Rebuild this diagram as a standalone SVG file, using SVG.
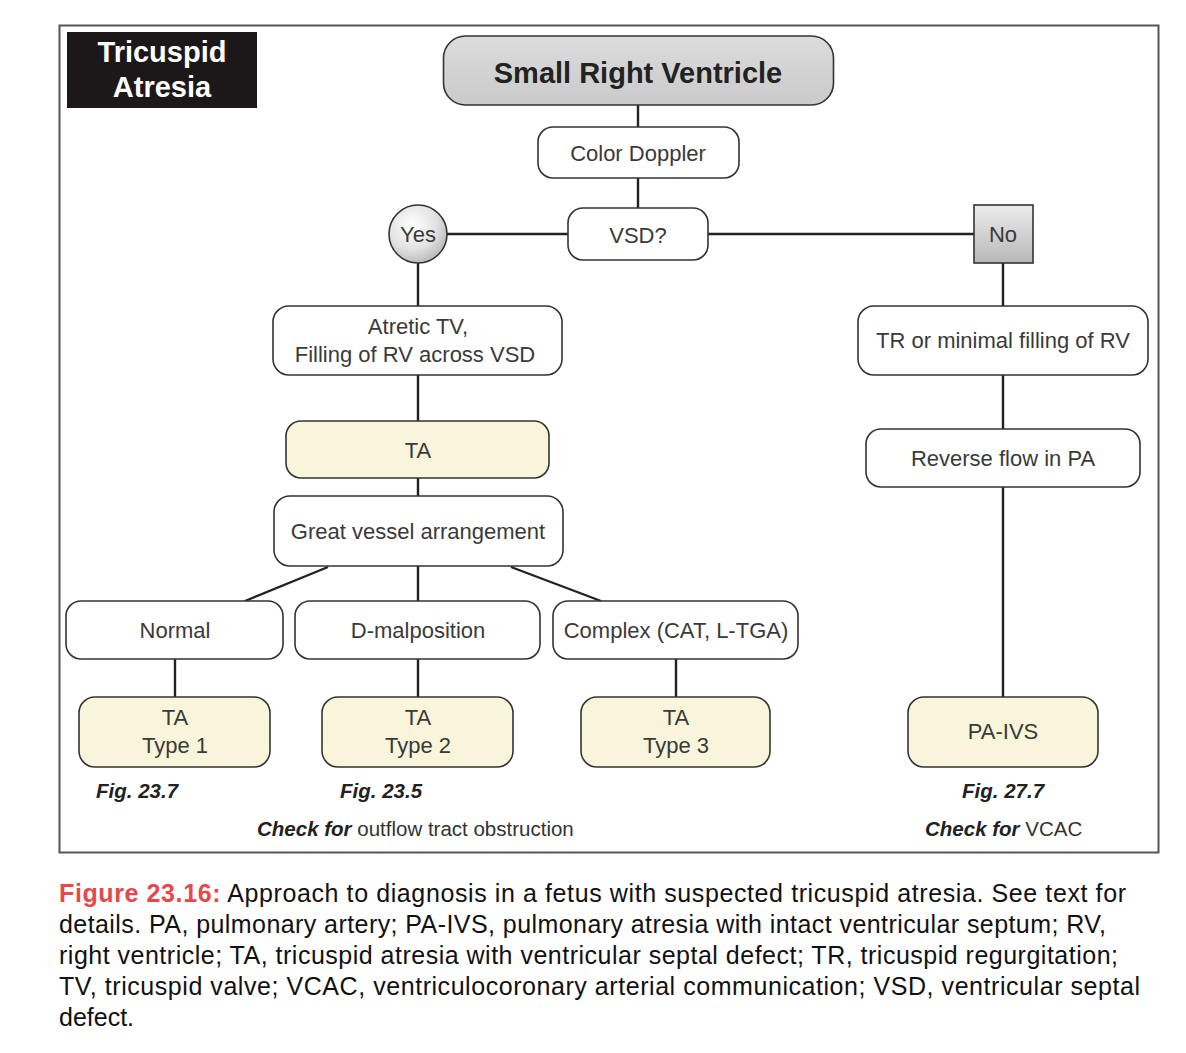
<svg xmlns="http://www.w3.org/2000/svg" width="1186" height="1053" viewBox="0 0 1186 1053">
<defs>
<linearGradient id="gHead" x1="0" y1="0" x2="0" y2="1">
<stop offset="0" stop-color="#dcdcdc"/><stop offset="1" stop-color="#cacaca"/>
</linearGradient>
<linearGradient id="gNo" x1="0" y1="0" x2="0" y2="1">
<stop offset="0" stop-color="#ececec"/><stop offset="1" stop-color="#b8b8b8"/>
</linearGradient>
<radialGradient id="gYes" cx="0.4" cy="0.35" r="0.7">
<stop offset="0" stop-color="#ffffff"/><stop offset="0.6" stop-color="#e2e2e2"/><stop offset="1" stop-color="#b5b5b5"/>
</radialGradient>
<style>
.box{fill:#fff;stroke:#333;stroke-width:1.6}
.ta{fill:#f8f5da;stroke:#333;stroke-width:1.6}
.t{font-family:"Liberation Sans",Arial,sans-serif;font-size:22px;fill:#3a3a3a;text-anchor:middle}
.fig{font-family:"Liberation Sans",Arial,sans-serif;font-size:20.5px;font-weight:bold;font-style:italic;fill:#222}
.chk{font-family:"Liberation Sans",Arial,sans-serif;font-size:20.5px;fill:#333}
.cap{font-family:"Liberation Sans",Arial,sans-serif;font-size:25px;fill:#111}
.ln{stroke:#222;stroke-width:2.4;fill:none}
</style>
</defs>
<rect width="1186" height="1053" fill="#fff"/>
<rect x="59.5" y="25.5" width="1099" height="827" fill="#fff" stroke="#555" stroke-width="2"/>

<g id="connectors">
<line class="ln" x1="638" y1="105" x2="638" y2="127"/>
<line class="ln" x1="638" y1="178" x2="638" y2="208"/>
<line class="ln" x1="447" y1="234" x2="568" y2="234"/>
<line class="ln" x1="708" y1="234" x2="974" y2="234"/>
<line class="ln" x1="418" y1="263" x2="418" y2="306"/>
<line class="ln" x1="418" y1="375" x2="418" y2="421"/>
<line class="ln" x1="418" y1="478" x2="418" y2="496"/>
<line class="ln" x1="418" y1="566" x2="418" y2="601"/>
<line class="ln" x1="328" y1="567" x2="245" y2="601"/>
<line class="ln" x1="511" y1="567" x2="601" y2="601"/>
<line class="ln" x1="175" y1="659" x2="175" y2="697"/>
<line class="ln" x1="418" y1="659" x2="418" y2="697"/>
<line class="ln" x1="676" y1="659" x2="676" y2="697"/>
<line class="ln" x1="1003" y1="263" x2="1003" y2="306"/>
<line class="ln" x1="1003" y1="375" x2="1003" y2="429"/>
<line class="ln" x1="1003" y1="487" x2="1003" y2="697"/>
</g>

<g id="title">
<rect x="67" y="32" width="190" height="76" fill="#1c1819"/>
<text x="162" y="62" font-family="Liberation Sans,Arial,sans-serif" font-size="29" font-weight="bold" fill="#fff" text-anchor="middle">Tricuspid</text>
<text x="162" y="97" font-family="Liberation Sans,Arial,sans-serif" font-size="29" font-weight="bold" fill="#fff" text-anchor="middle">Atresia</text>
</g>

<g id="n-srv">
<rect x="443.5" y="36" width="390" height="69" rx="22" fill="url(#gHead)" stroke="#333" stroke-width="1.6"/>
<text x="638" y="83" font-family="Liberation Sans,Arial,sans-serif" font-size="29" font-weight="bold" fill="#222" text-anchor="middle">Small Right Ventricle</text>
</g>

<g id="n-doppler">
<rect class="box" x="538" y="127" width="201" height="51" rx="15"/>
<text class="t" x="638" y="161">Color Doppler</text>
</g>

<g id="n-vsd">
<rect class="box" x="568" y="208" width="140" height="52" rx="15"/>
<text class="t" x="638" y="243">VSD?</text>
</g>

<g id="n-yes">
<circle cx="418" cy="234" r="29" fill="url(#gYes)" stroke="#333" stroke-width="1.6"/>
<text class="t" x="418" y="242">Yes</text>
</g>

<g id="n-no">
<rect x="974" y="205" width="59" height="58" fill="url(#gNo)" stroke="#333" stroke-width="1.6"/>
<text class="t" x="1003" y="242">No</text>
</g>

<g id="n-atretic">
<rect class="box" x="273" y="306" width="289" height="69" rx="16"/>
<text class="t" x="418" y="334">Atretic TV,</text>
<text class="t" x="415" y="362">Filling of RV across VSD</text>
</g>

<g id="n-ta">
<rect class="ta" x="286" y="421" width="263" height="57" rx="15"/>
<text class="t" x="418" y="458">TA</text>
</g>

<g id="n-great">
<rect class="box" x="274" y="496" width="289" height="70" rx="16"/>
<text class="t" x="418" y="539">Great vessel arrangement</text>
</g>

<g id="n-normal">
<rect class="box" x="66" y="601" width="217" height="58" rx="15"/>
<text class="t" x="175" y="638">Normal</text>
</g>

<g id="n-dmal">
<rect class="box" x="295" y="601" width="245" height="58" rx="15"/>
<text class="t" x="418" y="638">D-malposition</text>
</g>

<g id="n-complex">
<rect class="box" x="553" y="601" width="245" height="58" rx="15"/>
<text class="t" x="676" y="638">Complex (CAT, L-TGA)</text>
</g>

<g id="n-type1">
<rect class="ta" x="79" y="697" width="191" height="70" rx="16"/>
<text class="t" x="175" y="725">TA</text>
<text class="t" x="175" y="753">Type 1</text>
</g>

<g id="n-type2">
<rect class="ta" x="322" y="697" width="191" height="70" rx="16"/>
<text class="t" x="418" y="725">TA</text>
<text class="t" x="418" y="753">Type 2</text>
</g>

<g id="n-type3">
<rect class="ta" x="581" y="697" width="189" height="70" rx="16"/>
<text class="t" x="676" y="725">TA</text>
<text class="t" x="676" y="753">Type 3</text>
</g>

<g id="n-tr">
<rect class="box" x="858" y="306" width="290" height="69" rx="16"/>
<text class="t" x="1003" y="348">TR or minimal filling of RV</text>
</g>

<g id="n-reverse">
<rect class="box" x="866" y="429" width="274" height="58" rx="15"/>
<text class="t" x="1003" y="466">Reverse flow in PA</text>
</g>

<g id="n-paivs">
<rect class="ta" x="908" y="697" width="190" height="70" rx="16"/>
<text class="t" x="1003" y="739">PA-IVS</text>
</g>

<g id="labels">
<text class="fig" x="96" y="798">Fig. 23.7</text>
<text class="fig" x="340" y="798">Fig. 23.5</text>
<text class="fig" x="962" y="798">Fig. 27.7</text>
<text class="chk" x="257" y="836"><tspan font-weight="bold" font-style="italic" fill="#222">Check for</tspan> outflow tract obstruction</text>
<text class="chk" x="925" y="836"><tspan font-weight="bold" font-style="italic" fill="#222">Check for</tspan>  VCAC</text>
</g>

<g id="caption">
<text class="cap" x="59" y="902" textLength="1067" lengthAdjust="spacing"><tspan fill="#e8474c" font-weight="bold">Figure 23.16:</tspan> Approach to diagnosis in a fetus with suspected tricuspid atresia. See text for</text>
<text class="cap" x="59" y="933" textLength="1047" lengthAdjust="spacing">details. PA, pulmonary artery; PA-IVS, pulmonary atresia with intact ventricular septum; RV,</text>
<text class="cap" x="59" y="964" textLength="1059" lengthAdjust="spacing">right ventricle; TA, tricuspid atresia with ventricular septal defect; TR, tricuspid regurgitation;</text>
<text class="cap" x="59" y="995" textLength="1081" lengthAdjust="spacing">TV, tricuspid valve; VCAC, ventriculocoronary arterial communication; VSD, ventricular septal</text>
<text class="cap" x="59" y="1026">defect.</text>
</g>
</svg>
